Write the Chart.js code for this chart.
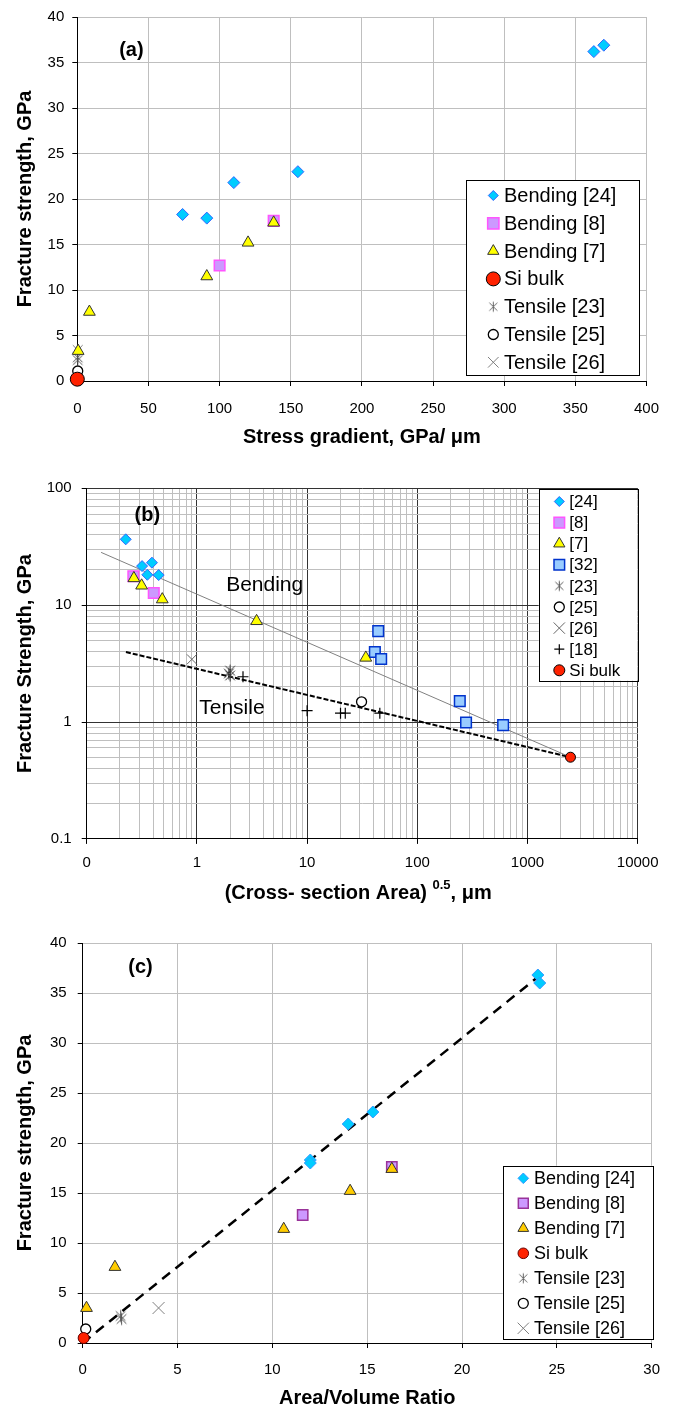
<!DOCTYPE html>
<html><head><meta charset="utf-8">
<script src="https://cdn.jsdelivr.net/npm/chart.js@4.4.0/dist/chart.umd.min.js"></script>
<style>
html,body{margin:0;padding:0;background:#fff;}
#wrap{position:relative;width:673px;height:1409px;overflow:hidden;background:#fff;}
canvas{position:absolute;left:0;}
</style></head><body>
<div id="wrap">
<canvas id="ca" width="673" height="458" style="top:0px;width:673px;height:458px"></canvas>
<canvas id="cb" width="673" height="447" style="top:458px;width:673px;height:447px"></canvas>
<canvas id="cc" width="673" height="504" style="top:905px;width:673px;height:504px"></canvas>
</div>
<script>
// ---------------- Panel (a) data ----------------
const aXTitle = 'Stress gradient, GPa/ \u03bcm';
const aYTitle = 'Fracture strength, GPa';
const aTag = '(a)';
const aLabels = ['Bending [24]', 'Bending [8]', 'Bending [7]', 'Si bulk', 'Tensile [23]', 'Tensile [25]', 'Tensile [26]'];
const aBend24X = [74, 91, 110, 155, 363, 370];
const aBend24Y = [18.3, 17.9, 21.8, 23.0, 36.2, 36.9];
const aBend8X = [100, 138];
const aBend8Y = [12.7, 17.6];
const aBend7X = [0.6, 8.5, 91, 120, 138];
const aBend7Y = [3.3, 7.6, 11.5, 15.2, 17.4];
const aSiX = [0];
const aSiY = [0.2];
const aTen23X = [0.3, 0.3];
const aTen23Y = [2.6, 2.3];
const aTen25X = [0.3];
const aTen25Y = [1.1];
const aTen26X = [0.3];
const aTen26Y = [3.4];

// ---------------- Panel (b) data ----------------
const bXTitleMain = '(Cross- section Area) ';
const bXTitleSup = '0.5';
const bXTitleEnd = ', \u03bcm';
const bYTitle = 'Fracture Strength, GPa';
const bTag = '(b)';
const bBendText = 'Bending';
const bTenText = 'Tensile';
const bLabels = ['[24]', '[8]', '[7]', '[32]', '[23]', '[25]', '[26]', '[18]', 'Si bulk'];
const bXTickValues = [0.1, 1, 10, 100, 1000, 10000];
const bXTickLabels = ['0', '1', '10', '100', '1000', '10000'];
const bYTickValues = [0.1, 1, 10, 100];
const bYTickLabels = ['0.1', '1', '10', '100'];
const b24X = [0.226, 0.318, 0.391, 0.355, 0.45];
const b24Y = [36.6, 21.6, 23.1, 18.2, 18.1];
const b8X = [0.265, 0.406];
const b8Y = [17.7, 12.7];
const b7X = [0.268, 0.315, 0.485, 3.48, 34.1];
const b7Y = [17.0, 14.7, 11.2, 7.3, 3.55];
const b32X = [44.2, 41.2, 47, 243, 277, 601];
const b32Y = [6.0, 3.97, 3.46, 1.51, 0.99, 0.94];
const b23X = [2.0, 2.0, 1.95];
const b23Y = [2.75, 2.5, 2.6];
const b25X = [31.2];
const b25Y = [1.49];
const b26X = [0.9];
const b26Y = [3.44];
const b18X = [2.62, 10, 20.1, 22.2, 45.7];
const b18Y = [2.44, 1.25, 1.19, 1.19, 1.19];
const bSiX = [2455];
const bSiY = [0.5];
const bBendFitX = [0.135, 2455];
const bBendFitY = [28.3, 0.5];
const bTenFitX = [0.227, 2455];
const bTenFitY = [3.97, 0.5];

// ---------------- Panel (c) data ----------------
const cXTitle = 'Area/Volume Ratio';
const cYTitle = 'Fracture strength, GPa';
const cTag = '(c)';
const cLabels = ['Bending [24]', 'Bending [8]', 'Bending [7]', 'Si bulk', 'Tensile [23]', 'Tensile [25]', 'Tensile [26]'];
const c24X = [12.0, 12.0, 14.0, 15.3, 24.0, 24.1];
const c24Y = [18.3, 18.0, 21.9, 23.1, 36.8, 36.0];
const c8X = [11.6, 16.3];
const c8Y = [12.8, 17.6];
const c7X = [0.2, 1.7, 10.6, 14.1, 16.3];
const c7Y = [3.5, 7.6, 11.4, 15.2, 17.4];
const cSiX = [0.05];
const cSiY = [0.5];
const c23X = [2.0, 2.05];
const c23Y = [2.7, 2.4];
const c25X = [0.16];
const c25Y = [1.4];
const c26X = [4.0];
const c26Y = [3.5];
const cFitX = [0, 24];
const cFitY = [0, 36.6];

// ---------------- helpers ----------------
const FONT = "'Liberation Sans', Arial, Helvetica, sans-serif";
Chart.defaults.font.family = FONT;
Chart.defaults.color = '#000';
Chart.defaults.animation = false;

function pts(xs, ys) { return xs.map((x, i) => ({ x: x, y: ys[i] })); }

function asterisk(r, color, lw) {
  const s = Math.ceil(2 * r + 3);
  const c = document.createElement('canvas');
  c.width = s; c.height = s;
  const g = c.getContext('2d');
  g.strokeStyle = color; g.lineWidth = lw;
  const m = s / 2, d = r * 0.8;
  g.beginPath();
  g.moveTo(m, m - r); g.lineTo(m, m + r);
  g.moveTo(m - d, m - d); g.lineTo(m + d, m + d);
  g.moveTo(m - d, m + d); g.lineTo(m + d, m - d);
  g.stroke();
  return c;
}

function ds(label, xs, ys, st) {
  return {
    label: label, data: pts(xs, ys), showLine: false, clip: false,
    pointStyle: st.style, pointRadius: st.r, pointHoverRadius: st.r,
    backgroundColor: st.bg || 'rgba(0,0,0,0)', borderColor: st.bc || '#000',
    pointBackgroundColor: st.bg || 'rgba(0,0,0,0)', pointBorderColor: st.bc || '#000',
    borderWidth: st.bw == null ? 1 : st.bw, pointBorderWidth: st.bw == null ? 1 : st.bw,
    legendRadius: st.lr || st.r, legendStyle: st.ls || st.style, order: st.order || 0
  };
}
function fit(xs, ys, color, width, dash) {
  return { data: pts(xs, ys), showLine: true, noLegend: true, borderColor: color, borderWidth: width,
    borderDash: dash, pointRadius: 0, pointHoverRadius: 0, fill: false, order: 10, tension: 0 };
}

function fallbackMarker(ctx, style, r, x, y) {
  ctx.beginPath();
  if (style && typeof style === 'object') { ctx.drawImage(style, x - style.width / 2, y - style.height / 2); return; }
  if (style === 'circle') { ctx.arc(x, y, r, 0, Math.PI * 2); ctx.fill(); ctx.stroke(); }
  else if (style === 'rect') { const s = r * Math.SQRT1_2; ctx.rect(x - s, y - s, 2 * s, 2 * s); ctx.fill(); ctx.stroke(); }
  else if (style === 'rectRot') { ctx.moveTo(x, y - r); ctx.lineTo(x + r, y); ctx.lineTo(x, y + r); ctx.lineTo(x - r, y); ctx.closePath(); ctx.fill(); ctx.stroke(); }
  else if (style === 'triangle') { ctx.moveTo(x, y - r); ctx.lineTo(x + r * 0.866, y + r / 2); ctx.lineTo(x - r * 0.866, y + r / 2); ctx.closePath(); ctx.fill(); ctx.stroke(); }
  else if (style === 'cross') { ctx.moveTo(x - r, y); ctx.lineTo(x + r, y); ctx.moveTo(x, y - r); ctx.lineTo(x, y + r); ctx.stroke(); }
  else if (style === 'crossRot') { const d = r * Math.SQRT1_2; ctx.moveTo(x - d, y - d); ctx.lineTo(x + d, y + d); ctx.moveTo(x - d, y + d); ctx.lineTo(x + d, y - d); ctx.stroke(); }
}

const boxLegend = {
  id: 'boxLegend',
  afterDraw(chart, args, o) {
    if (!o || !o.box) return;
    const ctx = chart.ctx;
    const b = o.box;
    ctx.save();
    ctx.fillStyle = '#fff';
    ctx.fillRect(b[0], b[1], b[2], b[3]);
    ctx.strokeStyle = '#000'; ctx.lineWidth = 1;
    ctx.strokeRect(Math.round(b[0]) + 0.5, Math.round(b[1]) + 0.5, Math.round(b[2]), Math.round(b[3]));
    const items = chart.data.datasets.filter(d => !d.noLegend);
    items.forEach((d, i) => {
      const cy = o.firstY + i * o.rowH;
      ctx.save();
      ctx.fillStyle = d.backgroundColor; ctx.strokeStyle = d.borderColor; ctx.lineWidth = d.borderWidth;
      ctx.setLineDash([]);
      if (Chart.helpers && Chart.helpers.drawPoint) {
        Chart.helpers.drawPoint(ctx, { pointStyle: d.legendStyle, radius: d.legendRadius, borderWidth: d.borderWidth, rotation: 0 }, o.markerX, cy);
      } else {
        fallbackMarker(ctx, d.legendStyle, d.legendRadius, o.markerX, cy);
      }
      ctx.restore();
      ctx.fillStyle = '#000';
      ctx.font = o.font;
      ctx.textAlign = 'left'; ctx.textBaseline = 'middle';
      ctx.fillText(d.label, o.textX, cy + 1);
    });
    ctx.restore();
  }
};

const panelText = {
  id: 'panelText',
  afterDatasetsDraw(chart, args, o) {
    if (!o || !o.items) return;
    const ctx = chart.ctx;
    ctx.save();
    ctx.fillStyle = '#000'; ctx.textAlign = 'center'; ctx.textBaseline = 'middle';
    o.items.forEach(it => {
      ctx.font = it.font;
      ctx.fillText(it.text, chart.scales.x.getPixelForValue(it.x), chart.scales.y.getPixelForValue(it.y));
    });
    ctx.restore();
  }
};

const supTitle = {
  id: 'supTitle',
  afterDraw(chart, args, o) {
    if (!o || !o.main) return;
    const ctx = chart.ctx;
    ctx.save();
    ctx.fillStyle = '#000'; ctx.textBaseline = 'middle'; ctx.textAlign = 'left';
    const fMain = 'bold 20px ' + FONT, fSup = 'bold 13px ' + FONT;
    ctx.font = fMain; const w1 = ctx.measureText(o.main).width; const w3 = ctx.measureText(o.end).width;
    ctx.font = fSup; const w2 = ctx.measureText(o.sup).width;
    const ca = chart.chartArea;
    let x = (ca.left + ca.right) / 2 - (w1 + w2 + w3) / 2 + o.dx;
    const y = o.y;
    ctx.font = fMain; ctx.fillText(o.main, x, y); x += w1;
    ctx.font = fSup; ctx.fillText(o.sup, x, y - 8); x += w2;
    ctx.font = fMain; ctx.fillText(o.end, x, y);
    ctx.restore();
  }
};

const GRID = '#BFBFBF';
function tickFont() { return { size: 15 }; }
function titleFont() { return { size: 20, weight: 'bold', lineHeight: 1 }; }

// ---------------- Chart (a) ----------------
new Chart(document.getElementById('ca'), {
  type: 'scatter',
  data: { datasets: [
    ds(aLabels[0], aBend24X, aBend24Y, { style: 'rectRot', r: 6, bg: '#00CCFF', bc: '#3366FF', bw: 1, lr: 5 }),
    ds(aLabels[1], aBend8X, aBend8Y, { style: 'rect', r: 7.5, bg: '#CC99FF', bc: '#FF55FF', bw: 1.5, lr: 8 }),
    ds(aLabels[2], aBend7X, aBend7Y, { style: 'triangle', r: 6.8, bg: '#FFFF00', bc: '#333333', bw: 1, lr: 6.5, order: -1 }),
    ds(aLabels[3], aSiX, aSiY, { style: 'circle', r: 7, bg: '#FF2200', bc: '#000000', bw: 1, lr: 7 }),
    ds(aLabels[4], aTen23X, aTen23Y, { style: asterisk(6, '#555555', 1), r: 6, bc: '#555555', bw: 1, ls: asterisk(5, '#666666', 1) }),
    ds(aLabels[5], aTen25X, aTen25Y, { style: 'circle', r: 5, bg: '#FFFFFF', bc: '#000000', bw: 1.3, lr: 5 }),
    ds(aLabels[6], aTen26X, aTen26Y, { style: 'crossRot', r: 7, bc: '#808080', bw: 1, lr: 7.5 })
  ] },
  options: {
    responsive: false, animation: false,
    layout: { padding: { top: 16, right: 26.3, left: 0, bottom: 0 } },
    plugins: {
      legend: { display: false }, tooltip: { enabled: false },
      boxLegend: { box: [466, 180, 173, 195], firstY: 195.5, rowH: 27.8, markerX: 493.3, textX: 504, font: '20px ' + FONT },
      panelText: { items: [{ text: aTag, x: 38, y: 36.3, font: 'bold 20px ' + FONT }] }
    },
    scales: {
      x: {
        type: 'linear', min: 0, max: 400,
        ticks: { stepSize: 50, font: tickFont(), padding: 14, maxRotation: 0, autoSkip: false, color: '#000' },
        grid: { color: GRID, tickColor: '#000', tickLength: 5 },
        border: { display: true, color: '#000', width: 1 },
        title: { display: true, text: aXTitle, font: titleFont(), padding: { top: 0, bottom: 11 }, color: '#000' },
        afterFit(s) { s.height = 77; }
      },
      y: {
        type: 'linear', min: 0, max: 40,
        ticks: { stepSize: 5, font: tickFont(), padding: 8, color: '#000' },
        grid: { color: GRID, tickColor: '#000', tickLength: 5 },
        border: { display: true, color: '#000', width: 1 },
        title: { display: true, text: aYTitle, font: titleFont(), padding: { top: 15, bottom: 0 }, color: '#000' },
        afterFit(s) { s.width = 77.3; }
      }
    }
  },
  plugins: [boxLegend, panelText]
});

// ---------------- Chart (b) ----------------
function isDecade(v) { const l = Math.log10(v); return Math.abs(l - Math.round(l)) < 1e-6; }
function logTicks(lo, hi) {
  const out = [];
  for (let d = lo; d < hi * 0.999; d *= 10) {
    for (let k = 1; k <= 9; k++) out.push({ value: +(d * k).toPrecision(6) });
  }
  out.push({ value: hi });
  return out;
}
function labelFor(values, labels, v) {
  const i = values.findIndex(t => Math.abs(t - v) / t < 1e-6);
  return i >= 0 ? labels[i] : '';
}
const majorColor = c => (c.tick && isDecade(c.tick.value)) ? '#333333' : GRID;
const majorTick = c => (c.tick && isDecade(c.tick.value)) ? '#000000' : 'rgba(0,0,0,0)';

new Chart(document.getElementById('cb'), {
  type: 'scatter',
  data: { datasets: [
    ds(bLabels[0], b24X, b24Y, { style: 'rectRot', r: 5.5, bg: '#00CCFF', bc: '#3366FF', bw: 1, lr: 5 }),
    ds(bLabels[1], b8X, b8Y, { style: 'rect', r: 7.5, bg: '#CC99FF', bc: '#FF55FF', bw: 1.5, lr: 7.5 }),
    ds(bLabels[2], b7X, b7Y, { style: 'triangle', r: 6.8, bg: '#FFFF00', bc: '#333333', bw: 1, lr: 6.5, order: -1 }),
    ds(bLabels[3], b32X, b32Y, { style: 'rect', r: 7.5, bg: '#99CCFF', bc: '#0033CC', bw: 1.5, lr: 7.5 }),
    ds(bLabels[4], b23X, b23Y, { style: asterisk(6, '#333333', 1), r: 6, bc: '#444444', bw: 1, ls: asterisk(5, '#555555', 1) }),
    ds(bLabels[5], b25X, b25Y, { style: 'circle', r: 5, bg: '#FFFFFF', bc: '#000000', bw: 1.3, lr: 5 }),
    ds(bLabels[6], b26X, b26Y, { style: 'crossRot', r: 7, bc: '#666666', bw: 1, lr: 8 }),
    ds(bLabels[7], b18X, b18Y, { style: 'cross', r: 5.5, bc: '#000000', bw: 1.2, lr: 5 }),
    ds(bLabels[8], bSiX, bSiY, { style: 'circle', r: 5, bg: '#FF2200', bc: '#000000', bw: 1, lr: 5.5 }),
    fit(bBendFitX, bBendFitY, '#808080', 1, []),
    fit(bTenFitX, bTenFitY, '#000000', 2, [5, 2])
  ] },
  options: {
    responsive: false, animation: false,
    layout: { padding: { top: 30.3, right: 35.3, left: 0, bottom: 0 } },
    plugins: {
      legend: { display: false }, tooltip: { enabled: false },
      boxLegend: { box: [538.7, 31, 99, 191.7], firstY: 43.5, rowH: 21.1, markerX: 559.3, textX: 569.3, font: '17px ' + FONT },
      panelText: { items: [
        { text: bTag, x: 0.355, y: 59, font: 'bold 20px ' + FONT },
        { text: bBendText, x: 4.12, y: 14.7, font: '21px ' + FONT },
        { text: bTenText, x: 2.08, y: 1.31, font: '21px ' + FONT }
      ] },
      supTitle: { main: bXTitleMain, sup: bXTitleSup, end: bXTitleEnd, y: 435.6, dx: -4 }
    },
    scales: {
      x: {
        type: 'logarithmic', min: 0.1, max: 10000,
        afterBuildTicks(s) { s.ticks = logTicks(0.1, 10000); },
        ticks: { font: tickFont(), padding: 9.6, maxRotation: 0, autoSkip: false, color: '#000',
          callback: v => labelFor(bXTickValues, bXTickLabels, v) },
        grid: { color: majorColor, tickColor: majorTick, tickLength: 5 },
        border: { display: true, color: '#000', width: 1 },
        title: { display: false },
        afterFit(s) { s.height = 66.1; }
      },
      y: {
        type: 'logarithmic', min: 0.1, max: 100,
        afterBuildTicks(s) { s.ticks = logTicks(0.1, 100); },
        ticks: { font: tickFont(), padding: 10, autoSkip: false, color: '#000',
          callback: v => labelFor(bYTickValues, bYTickLabels, v) },
        grid: { color: majorColor, tickColor: majorTick, tickLength: 5 },
        border: { display: true, color: '#000', width: 1 },
        title: { display: true, text: bYTitle, font: titleFont(), padding: { top: 15, bottom: 0 }, color: '#000' },
        afterFit(s) { s.width = 86.7; }
      }
    }
  },
  plugins: [boxLegend, panelText, supTitle]
});

// ---------------- Chart (c) ----------------
new Chart(document.getElementById('cc'), {
  type: 'scatter',
  data: { datasets: [
    ds(cLabels[0], c24X, c24Y, { style: 'rectRot', r: 6, bg: '#00CCFF', bc: '#3399FF', bw: 1, lr: 5.3 }),
    ds(cLabels[1], c8X, c8Y, { style: 'rect', r: 7.3, bg: '#CC99FF', bc: '#993399', bw: 1.5, lr: 7 }),
    ds(cLabels[2], c7X, c7Y, { style: 'triangle', r: 6.8, bg: '#FFCC00', bc: '#333333', bw: 1, lr: 6.2, order: -1 }),
    ds(cLabels[3], cSiX, cSiY, { style: 'circle', r: 5.5, bg: '#FF2200', bc: '#660000', bw: 1, lr: 5.3 }),
    ds(cLabels[4], c23X, c23Y, { style: asterisk(6, '#555555', 1), r: 6, bc: '#555555', bw: 1, ls: asterisk(5, '#666666', 1) }),
    ds(cLabels[5], c25X, c25Y, { style: 'circle', r: 5, bg: '#FFFFFF', bc: '#000000', bw: 1.3, lr: 5 }),
    ds(cLabels[6], c26X, c26Y, { style: 'crossRot', r: 8.5, bc: '#808080', bw: 1, lr: 8 }),
    fit(cFitX, cFitY, '#000000', 2.5, [10, 7])
  ] },
  options: {
    responsive: false, animation: false,
    layout: { padding: { top: 38, right: 20.3, left: 0, bottom: 0 } },
    plugins: {
      legend: { display: false }, tooltip: { enabled: false },
      boxLegend: { box: [502.7, 260.7, 150.3, 173.3], firstY: 273.3, rowH: 25, markerX: 523.3, textX: 534, font: '18px ' + FONT },
      panelText: { items: [{ text: cTag, x: 3.05, y: 37.6, font: 'bold 20px ' + FONT }] }
    },
    scales: {
      x: {
        type: 'linear', min: 0, max: 30,
        ticks: { stepSize: 5, font: tickFont(), padding: 13, maxRotation: 0, autoSkip: false, color: '#000' },
        grid: { color: GRID, tickColor: '#000', tickLength: 5 },
        border: { display: true, color: '#000', width: 1 },
        title: { display: true, text: cXTitle, font: titleFont(), padding: { top: 0, bottom: 1 }, color: '#000' },
        afterFit(s) { s.height = 66; }
      },
      y: {
        type: 'linear', min: 0, max: 40,
        ticks: { stepSize: 5, font: tickFont(), padding: 11, color: '#000' },
        grid: { color: GRID, tickColor: '#000', tickLength: 5 },
        border: { display: true, color: '#000', width: 1 },
        title: { display: true, text: cYTitle, font: titleFont(), padding: { top: 15, bottom: 0 }, color: '#000' },
        afterFit(s) { s.width = 82.7; }
      }
    }
  },
  plugins: [boxLegend, panelText]
});
</script>
</body></html>
